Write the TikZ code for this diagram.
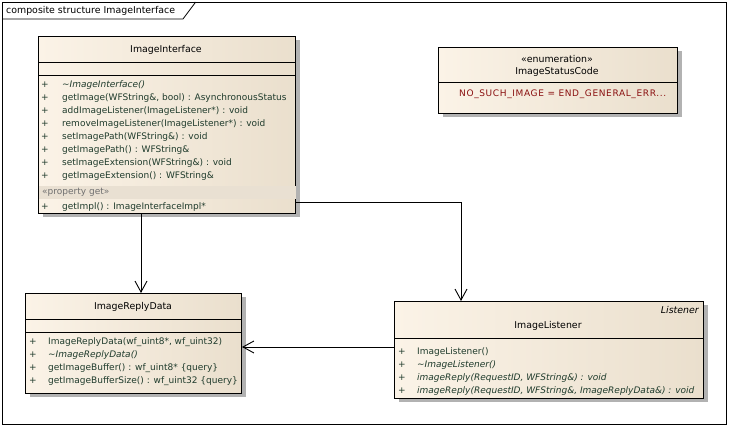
\documentclass[tikz,border=0pt]{standalone}
\usepackage{fontspec}
\setmainfont{DejaVu Sans}
\newfontfamily\enumfont[LetterSpace=7]{DejaVu Sans}
\usetikzlibrary{arrows.meta,shadows}
\definecolor{boxL}{HTML}{FBF3E7}
\definecolor{boxR}{HTML}{EADFCD}
\definecolor{opc}{HTML}{1F3B2C}
\definecolor{enumc}{HTML}{8A1010}
\definecolor{bandc}{HTML}{E9E0D2}
\definecolor{propc}{HTML}{707070}
\newcommand{\opfont}{\fontsize{9}{10}\selectfont}
\newcommand{\nmfont}{\fontsize{9.4}{10}\selectfont}
\begin{document}
\begin{tikzpicture}[x=1pt,y=-1pt,
  cls/.style={draw=black, line width=1pt, left color=boxL, right color=boxR,
    anchor=north west, inner sep=0pt,
    drop shadow={shadow xshift=4pt, shadow yshift=-4pt, fill=black!30, opacity=1}},
  sep/.style={line width=1pt},
  op/.style={anchor=west, font=\opfont, text=opc, inner sep=0pt},
  plus/.style={anchor=center, font=\opfont, text=opc, inner sep=0pt},
  nm/.style={anchor=center, font=\nmfont, text=black, inner sep=0pt},
  arr/.style={-{Straight Barb[length=11pt,width=12pt]}, line width=0.9pt}]
\fill[white] (0,0) rectangle (729,427);
\useasboundingbox (0,0) rectangle (729,427);
% frame
\draw[line width=0.8pt] (2,2) rectangle (726,424);
\draw[line width=0.8pt] (2,19) -- (183,19) -- (195,3) -- (195,2);
\node[anchor=west, font=\nmfont, inner sep=0pt] (frm) at (6,11) {composite structure ImageInterface};

% ImageInterface
\node[cls, minimum width=257pt, minimum height=177pt] (ii) at (38,36) {};
\fill[bandc] ([xshift=0.5pt]ii.west |- 0,186) rectangle ([xshift=-0.5pt]ii.east |- 0,199);
\draw[sep] (ii.west |- 0,63) -- (ii.east |- 0,63);
\draw[sep] (ii.west |- 0,76) -- (ii.east |- 0,76);
\node[nm] (iin) at (166,50) {ImageInterface};
\foreach \y/\t [count=\i] in {85/{\textit{\char`\~ImageInterface()}},
  98/{getImage(WFString\&, bool) : AsynchronousStatus},
  111/{addImageListener(ImageListener*) : void},
  124/{removeImageListener(ImageListener*) : void},
  137/{setImagePath(WFString\&) : void},
  150/{getImagePath() : WFString\&},
  163/{setImageExtension(WFString\&) : void},
  176/{getImageExtension() : WFString\&},
  207/{getImpl() : ImageInterfaceImpl*}} {
  \node[plus] (iip\i) at (45,\y) {+};
  \node[op] (iio\i) at (62,\y) {\t};
}
\node[op, text=propc] (iiprop) at (42,192) {«property get»};

% ImageStatusCode
\node[cls, minimum width=239pt, minimum height=66pt] (isc) at (438,47) {};
\draw[sep] (isc.west |- 0,83) -- (isc.east |- 0,83);
\node[nm] (isct) at (557,59) {«enumeration»};
\node[nm] (iscn) at (557,72) {ImageStatusCode};
\node[op, text=enumc, font=\opfont\enumfont] (iscl) at (459,94) {NO\_SUCH\_IMAGE = END\_GENERAL\_ERR...};

% ImageReplyData
\node[cls, minimum width=216pt, minimum height=100pt] (ird) at (25,293) {};
\draw[sep] (ird.west |- 0,320) -- (ird.east |- 0,320);
\draw[sep] (ird.west |- 0,333) -- (ird.east |- 0,333);
\node[nm] (irdn) at (133,307) {ImageReplyData};
\foreach \y/\t [count=\i] in {342/{ImageReplyData(wf\_uint8*, wf\_uint32)},
  355/{\textit{\char`\~ImageReplyData()}},
  368/{getImageBuffer() : wf\_uint8* \{query\}},
  381/{getImageBufferSize() : wf\_uint32 \{query\}}} {
  \node[plus] (irdp\i) at (33,\y) {+};
  \node[op] (irdo\i) at (48,\y) {\t};
}

% ImageListener
\node[cls, minimum width=309pt, minimum height=97pt] (il) at (394,301) {};
\draw[sep] (il.west |- 0,339) -- (il.east |- 0,339);
\node[anchor=east, font=\nmfont\itshape, inner sep=0pt] (ilst) at (699,310) {Listener};
\node[nm] (iln) at (548,326) {ImageListener};
\foreach \y/\t [count=\i] in {352/{ImageListener()},
  365/{\textit{\char`\~ImageListener()}},
  378/{\textit{imageReply(RequestID, WFString\&) : void}},
  391/{\textit{imageReply(RequestID, WFString\&, ImageReplyData\&) : void}}} {
  \node[plus] (ilp\i) at (402,\y) {+};
  \node[op] (ilo\i) at (417,\y) {\t};
}

% connectors
\draw[arr] (ii.south west -| 141,0) -- (ird.north west -| 141,0);
\draw[arr] (ii.east |- 0,202) -| (il.north -| 461,0);
\draw[arr] (il.west |- 0,347) -- (ird.east |- 0,347);
\end{tikzpicture}
\end{document}
